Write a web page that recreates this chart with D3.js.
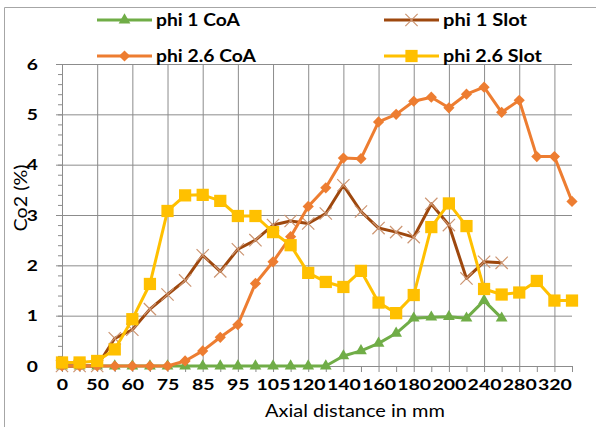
<!DOCTYPE html>
<html>
<head>
<meta charset="utf-8">
<script src="https://cdn.jsdelivr.net/npm/d3@7"></script>
<style>
  body { margin: 0; background: #fff; }
  text { font-family: Lato, "Open Sans", sans-serif; fill: #000; }
</style>
</head>
<body>
<div id="chart"></div>
<script>
// axial distance categories (only every other one gets a label)
var distances = ["0", "25", "50", "55", "60", "70", "75", "80", "85", "90", "95", "100", "105", "110", "120",
  "130", "140", "150", "160", "170", "180", "190", "200", "220", "240", "260", "280", "300", "320", "340"];

// CO2 (%) per series
var phi1CoA = [0, 0, 0, 0, 0, 0, 0, 0, 0, 0, 0, 0, 0, 0, 0, 0, 0.2, 0.3, 0.45, 0.65, 0.95, 0.97, 0.98, 0.95, 1.3, 0.95];
var phi1Slot = [0, 0, 0, 0.55, 0.72, 1.13, 1.42, 1.7, 2.2, 1.88, 2.32, 2.5, 2.8, 2.88, 2.83, 3.03, 3.59, 3.07, 2.74,
  2.66, 2.56, 3.22, 2.8, 1.74, 2.07, 2.05];
var phi26CoA = [0, 0, 0, 0, 0, 0, 0, 0.1, 0.3, 0.57, 0.82, 1.64, 2.07, 2.57, 3.17, 3.54, 4.13, 4.12, 4.85, 5.0, 5.26,
  5.34, 5.13, 5.4, 5.54, 5.04, 5.28, 4.16, 4.16, 3.27];
var phi26Slot = [0.07, 0.07, 0.1, 0.33, 0.93, 1.63, 3.08, 3.39, 3.4, 3.28, 2.98, 2.98, 2.66, 2.4, 1.85, 1.67, 1.57,
  1.89, 1.26, 1.05, 1.41, 2.76, 3.23, 2.78, 1.53, 1.42, 1.46, 1.69, 1.3, 1.3];

var seriesNames = ["phi 1 CoA", "phi 1 Slot", "phi 2.6 CoA", "phi 2.6 Slot"];
var yTicks = [0, 1, 2, 3, 4, 5, 6];

var svgWidth = 596;
var svgHeight = 427;

var svg = d3.select("#chart")
  .append("svg")
  .attr("width", svgWidth)
  .attr("height", svgHeight);

// chart frame (only left and top edges are visible in the crop)
svg.append("path")
  .attr("d", "M4.5,427 V7.5 H596")
  .attr("fill", "none")
  .attr("stroke", "#a6a6a6");

var xScale = d3.scalePoint().domain(distances).range([62, 572]);
var yScale = d3.scaleLinear().domain([0, 6]).range([366, 64]);

// horizontal gridlines
svg.append("g")
  .attr("transform", "translate(62,0)")
  .call(d3.axisRight(yScale).tickValues(yTicks.slice(1)).tickSize(510).tickFormat(""))
  .call(g => g.select(".domain").remove())
  .selectAll("line").attr("stroke", "#8c8c8c");

// vertical gridlines on every labelled category
svg.append("g")
  .attr("transform", "translate(0,64)")
  .call(d3.axisBottom(xScale).tickValues(distances.filter((d, i) => i % 2 == 0 && i > 0)).tickSize(302).tickFormat(""))
  .call(g => g.select(".domain").remove())
  .selectAll("line").attr("stroke", "#8c8c8c");

// minor y ticks
svg.append("g")
  .attr("transform", "translate(62,0)")
  .call(d3.axisLeft(yScale).tickValues(d3.range(0, 31).map(d => d / 5)).tickSize(4).tickFormat(""))
  .call(g => g.select(".domain").remove())
  .selectAll("line").attr("stroke", "#8c8c8c");

// y axis
var yAxis = svg.append("g")
  .attr("transform", "translate(62,0)")
  .call(d3.axisLeft(yScale).tickValues(yTicks).tickFormat(d3.format("d")).tickSize(6).tickPadding(18).tickSizeOuter(0));
yAxis.select(".domain").attr("stroke", "#8c8c8c");
yAxis.selectAll("line").attr("stroke", "#8c8c8c");
yAxis.selectAll("text")
  .attr("font-family", "Lato, sans-serif")
  .attr("font-size", "16px")
  .attr("font-weight", "bold")
  .attr("fill", "#000")
  .attr("transform", "translate(-24,0) scale(1.2,1)")
  .attr("x", 0);

// x axis
var xAxis = svg.append("g")
  .attr("transform", "translate(0,366)")
  .call(d3.axisBottom(xScale).tickSize(6).tickPadding(7).tickSizeOuter(0)
    .tickFormat((d, i) => i % 2 == 0 ? d : ""));
xAxis.select(".domain").attr("stroke", "#8c8c8c");
xAxis.selectAll("line").attr("stroke", "#8c8c8c");
xAxis.selectAll("text")
  .attr("font-family", "Lato, sans-serif")
  .attr("font-size", "16px")
  .attr("font-weight", "bold")
  .attr("fill", "#000")
  .attr("transform", "scale(1.22,1)");

// squeeze/stretch a text so that it takes the given width
function fitText(sel, w) {
  var len = sel.node().getComputedTextLength();
  var t = sel.attr("transform") || "";
  sel.attr("transform", t + " scale(" + (w / len) + ",1)");
}

// axis titles
var xTitle = svg.append("text")
  .attr("transform", "translate(355,417)")
  .attr("text-anchor", "middle")
  .attr("font-size", "17px")
  .text("Axial distance in mm");
fitText(xTitle, 180);

var yTitle = svg.append("text")
  .attr("transform", "translate(27,198) rotate(-90)")
  .attr("text-anchor", "middle")
  .attr("font-size", "17px")
  .text("Co2 (%)");
fitText(yTitle, 67);

var line = d3.line()
  .x((d, i) => xScale(distances[i]))
  .y(d => yScale(d));

var series = [
  { name: seriesNames[0], values: phi1CoA, color: "#70ad47", marker: "triangle" },
  { name: seriesNames[1], values: phi1Slot, color: "#9e480e", marker: "x" },
  { name: seriesNames[2], values: phi26CoA, color: "#ed7d31", marker: "diamond" },
  { name: seriesNames[3], values: phi26Slot, color: "#ffc000", marker: "square" }
];

function drawMarker(g, s) {
  if (s.marker == "triangle") {
    g.append("path").attr("d", d3.symbol(d3.symbolTriangle, 60)()).attr("fill", s.color);
  } else if (s.marker == "diamond") {
    g.append("path").attr("d", d3.symbol(d3.symbolDiamond2, 80)()).attr("fill", s.color);
  } else if (s.marker == "square") {
    g.append("path").attr("d", d3.symbol(d3.symbolSquare, 150)()).attr("fill", s.color);
  } else {
    g.append("path").attr("d", d3.symbol(d3.symbolTimes, 100)())
      .attr("fill", "none").attr("stroke", "#cc9572").attr("stroke-width", 1.2);
  }
}

series.forEach(function(s) {
  svg.append("path")
    .datum(s.values)
    .attr("d", line)
    .attr("fill", "none")
    .attr("stroke", s.color)
    .attr("stroke-width", 3)
    .attr("stroke-linejoin", "round");

  svg.selectAll(null)
    .data(s.values)
    .enter()
    .append("g")
    .attr("transform", (d, i) => `translate(${xScale(distances[i])},${yScale(d)})`)
    .each(function() { drawMarker(d3.select(this), s); });
});

// legend, two rows of two
var legendPos = [[97, 20], [384, 20], [97, 56], [384, 56]];
var legendWidths = [84, 84, 100, 99];
series.forEach(function(s, i) {
  var lg = svg.append("g").attr("transform", `translate(${legendPos[i][0]},${legendPos[i][1]})`);
  lg.append("line")
    .attr("x1", 0).attr("x2", 55)
    .attr("stroke", s.color)
    .attr("stroke-width", 3);
  drawMarker(lg.append("g").attr("transform", "translate(27.5,0)"), s);
  var t = lg.append("text")
    .attr("transform", "translate(59,6)")
    .attr("font-size", "17px")
    .attr("font-weight", "bold")
    .text(s.name);
  fitText(t, legendWidths[i]);
});
</script>
</body>
</html>
